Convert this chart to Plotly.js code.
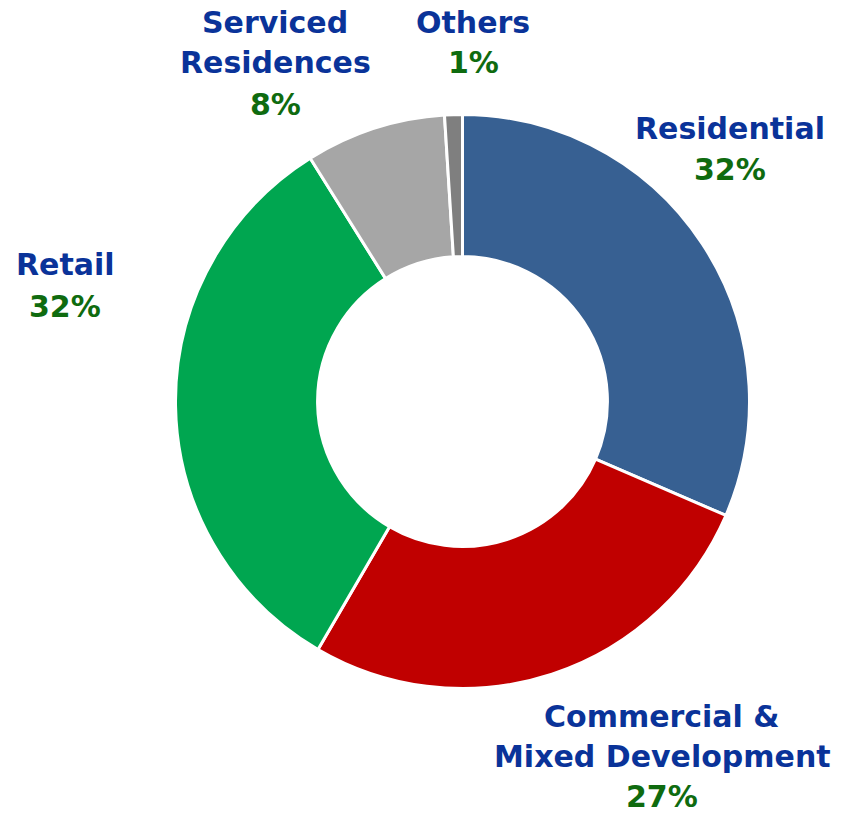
<!DOCTYPE html>
<html>
<head>
<meta charset="utf-8">
<script src="https://cdn.plot.ly/plotly-3.0.1.min.js"></script>
<style>html,body{margin:0;padding:0;background:#fff;}#chart{width:843px;height:816px;}</style>
</head>
<body>
<div id="chart"></div>
<script>
// Data
const categories = ["Residential", "Commercial & Mixed Development", "Retail", "Serviced Residences", "Others"];
const shares = [31.5, 26.9, 32.7, 7.9, 1.0];
// percentages as printed on the chart
const pctLabels = ["32%", "27%", "32%", "8%", "1%"];
const sliceColors = ["#376092", "#C00000", "#00A650", "#A6A6A6", "#7F7F7F"];
// Label text lines (category name lines) as shown in the chart
const labelLines = [["Residential"], ["Commercial &", "Mixed Development"], ["Retail"], ["Serviced", "Residences"], ["Others"]];
// Label anchor positions (pixel centres of first line)
const labelPos = [[730, 128], [662, 716], [65, 265], [275, 22], [473, 22]];
const labelLineH = [41, 40, 41, 41, 41];

const W = 843, H = 816;
const cx = 462.5, cy = 401.5, R = 287;
const FONT = "'DejaVu Sans', sans-serif";

const annotations = [];
categories.forEach((c, i) => {
  const lines = labelLines[i];
  const [px, py] = labelPos[i];
  const lh = labelLineH[i];
  lines.forEach((t, k) => {
    annotations.push({
      x: px / W, y: 1 - (py + k * lh) / H, xref: "paper", yref: "paper",
      text: "<b>" + t.replace("&", "&amp;") + "</b>", showarrow: false,
      xanchor: "center", yanchor: "middle", borderpad: 0,
      font: {family: FONT, size: 30, color: "#0A3399"}
    });
  });
  annotations.push({
    x: px / W, y: 1 - (py + lines.length * lh) / H, xref: "paper", yref: "paper",
    text: "<b>" + pctLabels[i] + "</b>", showarrow: false,
    xanchor: "center", yanchor: "middle", borderpad: 0,
    font: {family: FONT, size: 30, color: "#0F6B0F"}
  });
});

const trace = {
  type: "pie",
  labels: categories,
  values: shares,
  hole: 0.505,
  sort: false,
  direction: "clockwise",
  rotation: 0,
  textinfo: "none",
  hoverinfo: "label+percent",
  marker: {colors: sliceColors, line: {color: "#ffffff", width: 3}},
  domain: {x: [(cx - R) / W, (cx + R) / W], y: [1 - (cy + R) / H, 1 - (cy - R) / H]},
  showlegend: false
};

Plotly.newPlot("chart", [trace], {
  width: W, height: H,
  margin: {l: 0, r: 0, t: 0, b: 0},
  paper_bgcolor: "#ffffff",
  showlegend: false,
  annotations: annotations
}, {displayModeBar: false, staticPlot: true});
</script>
</body>
</html>
